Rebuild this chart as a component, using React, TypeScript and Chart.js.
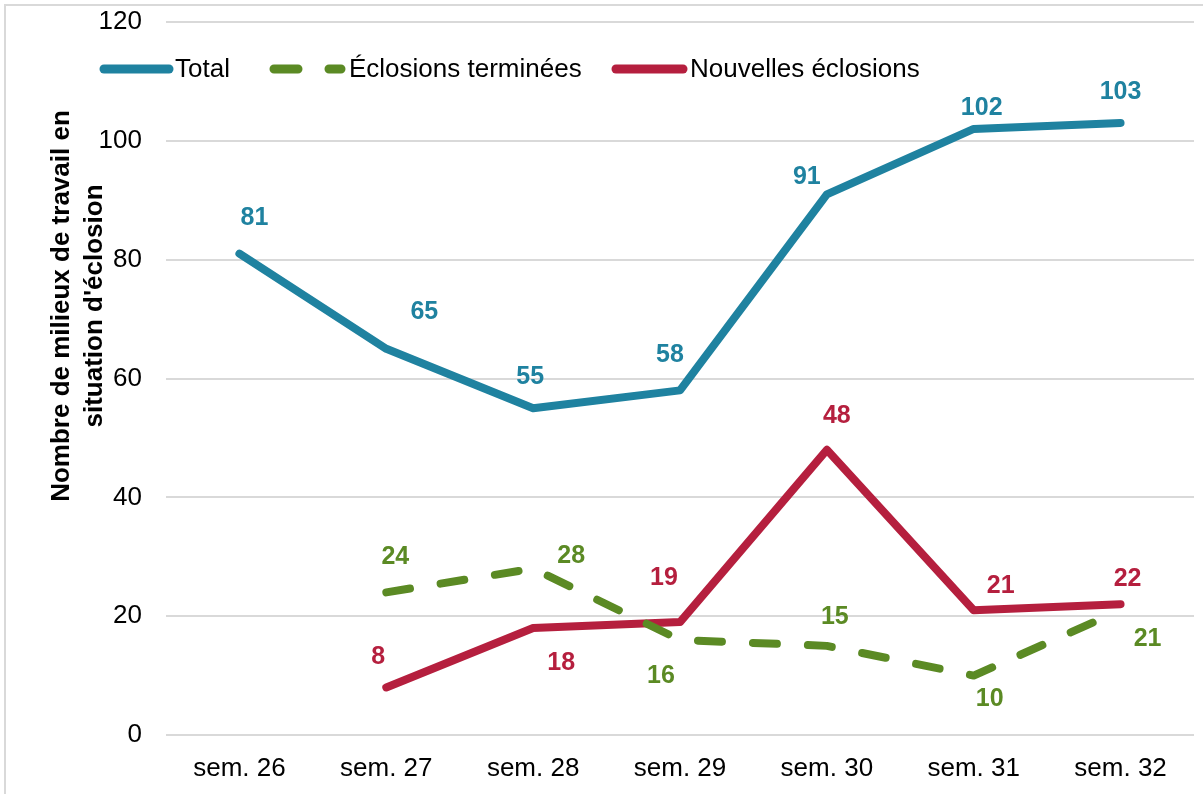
import React, { useEffect, useRef } from "react";
import { Chart, registerables } from "chart.js";

Chart.register(...registerables);

// ---- data ----
const categories = ["sem. 26", "sem. 27", "sem. 28", "sem. 29", "sem. 30", "sem. 31", "sem. 32"];
const totalValues = [81, 65, 55, 58, 91, 102, 103];
const termineesValues = [null, 24, 28, 16, 15, 10, 21];
const nouvellesValues = [null, 8, 18, 19, 48, 21, 22];
const seriesNames = ["Total", "Éclosions terminées", "Nouvelles éclosions"];
const yTickStep = 20;
const yMin = 0;
const yMax = 120;
const yTitleLines = ["Nombre de milieux de travail en", "situation d'éclosion"];

// ---- styles ----
const COLORS = ["#1F82A0", "#5B8A24", "#B51F3E"];
const FONT = "'Liberation Sans', Arial, Helvetica, sans-serif";
const DASH = [24, 31];

// label offsets (dx, dy) in px relative to each point, per series
const labelOffsets = [
  [[15, -36], [38, -37], [-3, -31], [-10, -35], [-20, -17], [8, -21], [0, -31]],
  [[0, 0], [9, -35], [38, -13], [-19, 36], [8, -29], [16, 24], [27, 29]],
  [[0, 0], [-8, -30], [28, 35], [-16, -44], [10, -34], [27, -24], [7, -25]],
];

const framePlugin = {
  id: "frame",
  beforeDraw(chart: any) {
    const ctx = chart.ctx;
    ctx.save();
    ctx.fillStyle = "#ffffff";
    ctx.fillRect(0, 0, chart.width, chart.height);
    ctx.strokeStyle = "#d9d9d9";
    ctx.lineWidth = 2;
    ctx.beginPath();
    ctx.moveTo(5, chart.height);
    ctx.lineTo(5, 5);
    ctx.lineTo(chart.width, 5);
    ctx.stroke();
    ctx.restore();
  },
};

const labelsPlugin = {
  id: "pointLabels",
  afterDatasetsDraw(chart: any) {
    const ctx = chart.ctx;
    ctx.save();
    ctx.font = `bold 25px ${FONT}`;
    ctx.textAlign = "center";
    ctx.textBaseline = "middle";
    chart.data.datasets.forEach((ds: any, di: number) => {
      const meta = chart.getDatasetMeta(di);
      ctx.fillStyle = COLORS[di];
      ds.data.forEach((v: any, i: number) => {
        if (v === null || v === undefined) return;
        const el = meta.data[i];
        const off = labelOffsets[di][i];
        ctx.fillText(String(v), el.x + off[0], el.y + off[1]);
      });
    });
    ctx.restore();
  },
};

const legendAndTitlePlugin = {
  id: "customLegendTitle",
  afterDraw(chart: any) {
    const ctx = chart.ctx;
    const area = chart.chartArea;
    ctx.save();
    // legend
    const ly = area.top + 47;
    const items = [
      { x0: area.left - 62, x1: area.left + 3, tx: area.left + 9, dash: [] as number[] },
      { x0: area.left + 108, x1: area.left + 175, tx: area.left + 183, dash: DASH },
      { x0: area.left + 450, x1: area.left + 517, tx: area.left + 524, dash: [] as number[] },
    ];
    items.forEach((it, i) => {
      ctx.strokeStyle = COLORS[i];
      ctx.lineWidth = 9;
      ctx.lineCap = "round";
      ctx.setLineDash(it.dash);
      ctx.beginPath();
      ctx.moveTo(it.x0, ly);
      ctx.lineTo(it.x1, ly);
      ctx.stroke();
      ctx.setLineDash([]);
      ctx.fillStyle = "#000000";
      ctx.font = `26px ${FONT}`;
      ctx.textAlign = "left";
      ctx.textBaseline = "middle";
      ctx.fillText(seriesNames[i], it.tx, ly + 1);
    });
    // y axis title
    ctx.translate(78, 306);
    ctx.rotate(-Math.PI / 2);
    ctx.font = `bold 26px ${FONT}`;
    ctx.fillStyle = "#000000";
    ctx.textAlign = "center";
    ctx.textBaseline = "middle";
    ctx.fillText(yTitleLines[0], 0, -16);
    ctx.fillText(yTitleLines[1], 0, 17);
    ctx.restore();
  },
};

export default function App() {
  const canvasRef = useRef<HTMLCanvasElement | null>(null);

  useEffect(() => {
    if (!canvasRef.current) return;
    const lineCommon = {
      borderWidth: 8,
      pointRadius: 0,
      pointHoverRadius: 0,
      tension: 0,
      fill: false,
      borderCapStyle: "round" as const,
      borderJoinStyle: "round" as const,
      spanGaps: false,
    };
    const chart = new Chart(canvasRef.current, {
      type: "line",
      data: {
        labels: categories,
        datasets: [
          { ...lineCommon, label: seriesNames[0], data: totalValues, borderColor: COLORS[0], backgroundColor: COLORS[0] },
          { ...lineCommon, label: seriesNames[1], data: termineesValues, borderColor: COLORS[1], backgroundColor: COLORS[1], borderDash: DASH },
          { ...lineCommon, label: seriesNames[2], data: nouvellesValues, borderColor: COLORS[2], backgroundColor: COLORS[2] },
        ],
      },
      options: {
        responsive: false,
        animation: false,
        devicePixelRatio: 1,
        layout: { padding: { left: 0, right: 9, top: 22, bottom: 0 } },
        plugins: {
          legend: { display: false },
          tooltip: { enabled: false },
          title: { display: false },
        },
        scales: {
          x: {
            type: "category",
            offset: true,
            grid: { display: false, drawTicks: false },
            border: { display: false },
            ticks: {
              color: "#000000",
              font: { family: FONT, size: 26 },
              padding: 18,
              maxRotation: 0,
              autoSkip: false,
            },
            afterFit: (scale: any) => {
              scale.height = 59;
              scale.paddingLeft = 0;
              scale.paddingRight = 0;
            },
          },
          y: {
            min: yMin,
            max: yMax,
            grid: { color: "#d9d9d9", lineWidth: 2, drawTicks: false },
            border: { display: false },
            ticks: {
              stepSize: yTickStep,
              color: "#000000",
              font: { family: FONT, size: 26 },
              padding: 24,
            },
            afterFit: (scale: any) => {
              scale.width = 166;
              scale.paddingTop = 0;
              scale.paddingBottom = 0;
            },
          },
        },
      },
      plugins: [framePlugin, labelsPlugin, legendAndTitlePlugin],
    });
    return () => chart.destroy();
  }, []);

  return (
    <div style={{ position: "fixed", left: 0, top: 0, width: 1203, height: 794, background: "#fff" }}>
      <canvas ref={canvasRef} width={1203} height={794} style={{ display: "block", width: 1203, height: 794 }} />
    </div>
  );
}
